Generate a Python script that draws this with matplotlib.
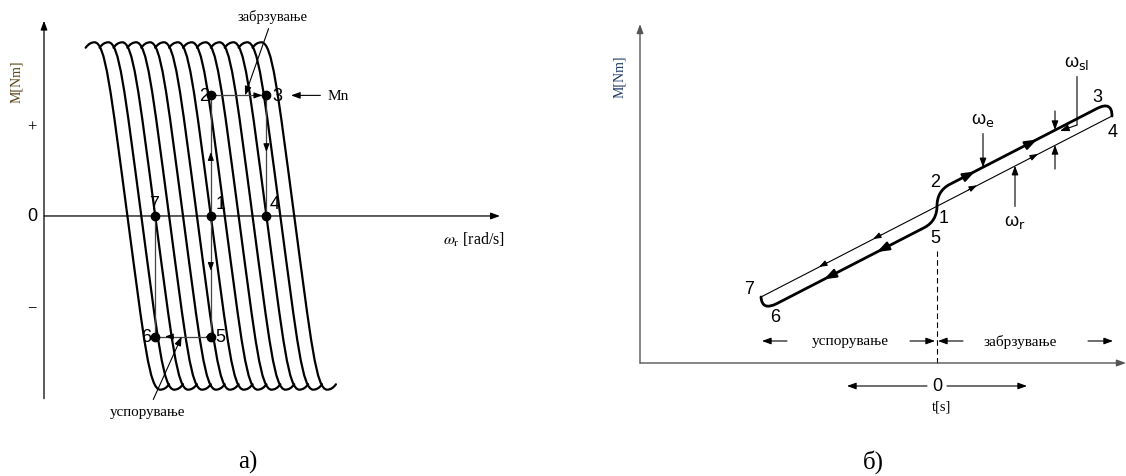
import matplotlib.pyplot as plt
from matplotlib.path import Path
from matplotlib.patches import PathPatch
import numpy as np

plt.rcParams['font.family'] = ['Liberation Serif', 'DejaVu Serif']
plt.rcParams['mathtext.fontset'] = 'stix'
SANS = ['Liberation Sans', 'DejaVu Sans']

# ---------------- a) torque-speed curves for stepped supply frequency ----------------
zero_speeds = [6, 7, 8, 9, 10, 11, 12, 13, 14, 15, 16, 17, 18]
# one half of a characteristic: zero crossing -> pull-out peak -> small hook beyond it
curve_half = [(0.0, 0.0), (-1.22, 1.42), (-1.58, 1.93), (-2.37, 1.93),
              (-2.73, 1.93), (-3.0, 1.87)]
M_n = 1.34
op_names_a = ['1', '2', '3', '4', '5', '6', '7']
op_speed_a = [12, 12, 16, 16, 12, 8, 8]
op_torque_a = [0, M_n, M_n, 0, -M_n, -M_n, 0]
label_off_a = [(7, 9), (-5, 0), (8, 0), (6, 9), (7, 0), (-6.5, 0), (-1, 9)]
# trajectory segments (index pairs into the operating points)
segments_a = [(4, 1), (1, 2), (2, 3), (4, 5), (5, 6)]
# direction marks on the trajectory: speed, torque, angle in degrees
traj_arrow_w = [12, 12, 16, 12.5, 15.7, 8.7, 11.6]
traj_arrow_m = [0.71, -0.61, 0.71, M_n, M_n, -M_n, -M_n]
traj_arrow_ang = [90, -90, -90, 0, 0, 180, 180]

# ---------------- б) speed trajectories in time ----------------
t_r = [-3.52, 3.5]
w_r = [1.32, 4.94]
w_e_path = [(-3.52, 1.32), (-3.5, 1.035), (-3.2, 1.19), (-0.25, 2.71),
            (-0.08, 2.80), (0.0, 2.95), (0.0, 3.14), (0.0, 3.33), (0.08, 3.48),
            (0.25, 3.57), (3.2, 5.09), (3.5, 5.245), (3.5, 4.94)]
w_e_codes = [Path.MOVETO, Path.CURVE3, Path.CURVE3, Path.LINETO,
             Path.CURVE4, Path.CURVE4, Path.CURVE4, Path.CURVE4, Path.CURVE4,
             Path.CURVE4, Path.LINETO, Path.CURVE3, Path.CURVE3]
e_arrow_t = [0.76, 2.0, -1.2, -2.26]
e_arrow_w = [3.83, 4.47, 2.22, 1.674]
r_arrow_t = [0.8, 2.02, -1.28, -2.36]
r_arrow_w = [3.553, 4.18, 2.48, 1.922]
slope_deg = 27.3
op_names_b = ['1', '2', '3', '4', '5', '6', '7']
op_t_b = [0.0, 0.25, 3.2, 3.5, -0.25, -3.2, -3.52]
op_w_b = [3.14, 3.57, 5.09, 4.94, 2.71, 1.19, 1.32]
label_off_b = [(5, -8), (-10.4, 2.5), (0, 8.3), (0.7, -11.5), (7.5, -7.5), (-1.4, -9.7), (-8.6, 5.8)]

fig = plt.figure(figsize=(11.26, 4.77), dpi=100)
axa = fig.add_axes([0, 47 / 477, 520 / 1126, 430 / 477])
axa.set_xlim(-3.165, 34.24)
axa.set_ylim(-2.367, 2.411)
axa.axis('off')


def head(ax, x, y, ang, size=7, scale=9, lw=0.8):
    a = np.deg2rad(ang)
    ax.annotate('', xy=(x, y), xytext=(-size * np.cos(a), -size * np.sin(a)),
                textcoords='offset points',
                arrowprops=dict(arrowstyle='-|>,head_length=0.6,head_width=0.22',
                                color='k', lw=lw, shrinkA=0, shrinkB=0,
                                mutation_scale=scale))


def arrow(ax, xy, xytext, lw=0.8, color='k', scale=9):
    ax.annotate('', xy=xy, xytext=xytext,
                arrowprops=dict(arrowstyle='-|>,head_length=0.6,head_width=0.22',
                                color=color, lw=lw, shrinkA=0, shrinkB=0,
                                mutation_scale=scale))


# axes with arrowheads
arrow(axa, (0, 2.17), (0, -2.03), lw=0.9)
arrow(axa, (32.8, 0), (0, 0), lw=0.9)

# the characteristic family
upper = curve_half
lower = [(-x, -y) for x, y in curve_half]
for w0 in zero_speeds:
    verts = [lower[5], lower[4], lower[3], lower[2], lower[1], lower[0],
             upper[1], upper[2], upper[3], upper[4], upper[5]]
    verts = [(w0 + x, y) for x, y in verts]
    codes = [Path.MOVETO, Path.CURVE3, Path.CURVE3, Path.CURVE4, Path.CURVE4,
             Path.CURVE4, Path.CURVE4, Path.CURVE4, Path.CURVE4, Path.CURVE3, Path.CURVE3]
    axa.add_patch(PathPatch(Path(verts, codes), fill=False, lw=1.6, ec='k',
                            capstyle='round'))

# operating trajectory
for i, j in segments_a:
    axa.plot([op_speed_a[i], op_speed_a[j]], [op_torque_a[i], op_torque_a[j]],
             color='#444444', lw=0.9, zorder=3)
for x, y, ang in zip(traj_arrow_w, traj_arrow_m, traj_arrow_ang):
    head(axa, x, y, ang, size=6, scale=8)
axa.plot(op_speed_a, op_torque_a, 'o', color='k', ms=6, zorder=5)
for name, x, y, off in zip(op_names_a, op_speed_a, op_torque_a, label_off_a):
    axa.annotate(name, (x, y), xytext=off, textcoords='offset points',
                 ha='center', va='center', fontsize=13, family=SANS)

axa.text(-0.86, 0, '0', ha='center', va='center', fontsize=13, family=SANS)
axa.text(-0.86, 0.99, '+', ha='center', va='center', fontsize=12)
axa.text(-0.86, -1.01, '\u2212', ha='center', va='center', fontsize=12)
axa.text(-1.94, 1.5, 'M[Nm]', rotation=90, ha='center', va='center',
         fontsize=10, color='#5a4418')
axa.text(30.9, -0.26, r'$\omega_\mathrm{r}$ [rad/s]', ha='center', va='center', fontsize=11.5)

axa.annotate('забрзување', xy=(14.46, M_n), xytext=(16.47, 2.22),
             ha='center', va='center', fontsize=10.5,
             arrowprops=dict(arrowstyle='-|>,head_length=0.6,head_width=0.22',
                             color='k', lw=0.8, shrinkA=2, shrinkB=0, mutation_scale=9))
axa.annotate('Mn', xy=(17.77, M_n), xytext=(21.15, M_n),
             ha='center', va='center', fontsize=11,
             arrowprops=dict(arrowstyle='-|>,head_length=0.6,head_width=0.22',
                             color='k', lw=0.8, shrinkA=3, shrinkB=0, mutation_scale=9))
axa.annotate('успорување', xy=(9.9, -M_n), xytext=(7.48, -2.17),
             ha='center', va='center', fontsize=10.8,
             arrowprops=dict(arrowstyle='-|>,head_length=0.6,head_width=0.22',
                             color='k', lw=0.8, shrinkA=2, shrinkB=0, mutation_scale=9))

# ---------------- panel б ----------------
axb = fig.add_axes([560 / 1126, 47 / 477, 566 / 1126, 430 / 477])
axb.set_xlim(-7.54, 3.78)
axb.set_ylim(-1.32, 7.28)
axb.axis('off')

arrow(axb, (-5.94, 6.78), (-5.94, 0), lw=1.0, color='#555555')
arrow(axb, (3.78, 0), (-5.94, 0), lw=1.0, color='#555555')
axb.text(-6.34, 5.74, 'M[Nm]', rotation=90, ha='center', va='center',
         fontsize=10, color='#1f3a66')

axb.plot(t_r, w_r, color='k', lw=0.8)
axb.add_patch(PathPatch(Path(w_e_path, w_e_codes), fill=False, lw=2.0, ec='k',
                        capstyle='round', joinstyle='round'))
for t, w in zip(e_arrow_t, e_arrow_w):
    ang = slope_deg if t > 0 else slope_deg + 180
    head(axb, t, w, ang, size=9, scale=12, lw=1.6)
for t, w in zip(r_arrow_t, r_arrow_w):
    ang = slope_deg if t > 0 else slope_deg + 180
    head(axb, t, w, ang, size=7, scale=8, lw=0.7)

for name, t, w, off in zip(op_names_b, op_t_b, op_w_b, label_off_b):
    axb.annotate(name, (t, w), xytext=off, textcoords='offset points',
                 ha='center', va='center', fontsize=13, family=SANS)

akw = dict(arrowstyle='-|>,head_length=0.6,head_width=0.22', color='k', lw=0.8,
           shrinkA=2, shrinkB=0, mutation_scale=9)
axb.annotate('ω$_\\mathsf{e}$', xy=(0.92, 3.915), xytext=(0.92, 4.88),
             ha='center', va='center', fontsize=13, family=SANS,
             math_fontfamily='dejavusans', arrowprops=akw)
axb.annotate('ω$_\\mathsf{r}$', xy=(1.56, 3.945), xytext=(1.56, 2.84),
             ha='center', va='center', fontsize=13, family=SANS,
             math_fontfamily='dejavusans', arrowprops=akw)
axb.annotate('ω$_\\mathsf{sl}$', xy=(2.8, 4.76), xytext=(2.8, 6.02),
             ha='center', va='center', fontsize=13, family=SANS,
             math_fontfamily='dejavusans',
             arrowprops=dict(arrowstyle='-', color='k', lw=0.8, shrinkA=2, shrinkB=0))
arrow(axb, (2.46, 4.64), (2.8, 4.76))
arrow(axb, (2.36, 4.66), (2.36, 5.04))
arrow(axb, (2.36, 4.36), (2.36, 3.88))

axb.plot([0, 0], [0, 2.25], color='k', lw=0.8, ls=(0, (5, 3)))

# time-axis regions
arrow(axb, (-3.5, 0.44), (-3.0, 0.44))
arrow(axb, (-0.04, 0.44), (-0.54, 0.44))
arrow(axb, (0.02, 0.44), (0.52, 0.44))
arrow(axb, (3.52, 0.44), (3.02, 0.44))
axb.text(-1.74, 0.44, 'успорување', ha='center', va='center', fontsize=11)
axb.text(1.66, 0.44, 'забрзување', ha='center', va='center', fontsize=11)
arrow(axb, (-1.8, -0.46), (-0.2, -0.46))
arrow(axb, (1.8, -0.46), (0.2, -0.46))
axb.text(0, -0.46, '0', ha='center', va='center', fontsize=13, family=SANS)
axb.text(0.1, -0.86, 't[s]', ha='center', va='center', fontsize=10.5)

fig.text(248 / 1126, 1 - 462 / 477, 'а)', ha='center', va='center', fontsize=18)
fig.text(873 / 1126, 1 - 462 / 477, 'б)', ha='center', va='center', fontsize=18)

fig.savefig('out.png', dpi=100)
